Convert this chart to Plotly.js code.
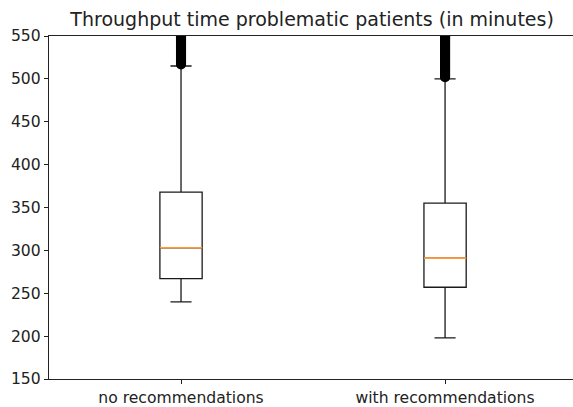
<!DOCTYPE html>
<html>
<head>
<meta charset="utf-8">
<script src="https://cdn.plot.ly/plotly-3.0.1.min.js"></script>
<style>
html,body{margin:0;padding:0;overflow:hidden;background:#fff;width:573px;height:407px;}
#chart{width:580px;height:407px;}
</style>
</head>
<body>
<div id="chart"></div>
<script>
// Data
const categories = ["no recommendations", "with recommendations"];
const q1Values = [267, 257];
const medianValues = [303, 291];
const q3Values = [368, 355];
const lowerWhisker = [240, 198];
const upperWhisker = [515, 500];
const outliersNoRec = [517, 518, 519, 520, 521, 522, 523, 524, 525, 526, 527, 528, 529, 530, 531, 532, 533, 534, 535, 536, 537, 538, 539, 540, 541, 542, 543, 544, 545, 546, 547, 548, 549, 550, 552, 555, 558];
const outliersWithRec = [502, 503, 504, 505, 506, 507, 508, 509, 510, 511, 512, 513, 514, 515, 516, 517, 518, 519, 520, 521, 522, 523, 524, 525, 526, 527, 528, 529, 530, 531, 532, 533, 534, 535, 536, 537, 538, 539, 540, 541, 542, 543, 544, 545, 546, 547, 548, 549, 550, 552, 555, 558];
const yTicks = [150, 200, 250, 300, 350, 400, 450, 500, 550];
const titleText = "Throughput time problematic patients (in minutes)";

const boxTrace = {
  type: "box",
  x: categories,
  q1: q1Values,
  median: medianValues,
  q3: q3Values,
  lowerfence: lowerWhisker,
  upperfence: upperWhisker,
  boxpoints: false,
  width: 0.16,
  whiskerwidth: 0.5,
  line: {color: "#1a1a1a", width: 1.3},
  fillcolor: "rgba(255,255,255,0)",
  hoverinfo: "skip",
  showlegend: false
};
const medianTrace = {
  type: "box",
  x: categories,
  q1: medianValues,
  median: medianValues,
  q3: medianValues,
  lowerfence: medianValues,
  upperfence: medianValues,
  boxpoints: false,
  width: 0.16,
  whiskerwidth: 0,
  line: {color: "#ff9a3c", width: 1.6},
  fillcolor: "rgba(255,255,255,0)",
  hoverinfo: "skip",
  showlegend: false
};
const outlierMarker = {symbol: "circle-open", size: 8, color: "#000", line: {width: 2.2, color: "#000"}};
const out1 = {
  type: "scatter", mode: "markers",
  x: outliersNoRec.map(() => categories[0]),
  y: outliersNoRec,
  marker: outlierMarker, showlegend: false, cliponaxis: true, hoverinfo: "skip"
};
const out2 = {
  type: "scatter", mode: "markers",
  x: outliersWithRec.map(() => categories[1]),
  y: outliersWithRec,
  marker: outlierMarker, showlegend: false, cliponaxis: true, hoverinfo: "skip"
};

const tickFont = {family: "DejaVu Sans", size: 15.6, color: "#222"};
const layout = {
  width: 580,
  height: 407,
  margin: {l: 49, r: 0, t: 36, b: 28},
  paper_bgcolor: "#fff",
  plot_bgcolor: "#fff",
  boxmode: "overlay",
  font: {family: "DejaVu Sans", color: "#222", size: 15.6},
  title: {
    text: titleText,
    font: {family: "DejaVu Sans", size: 19, color: "#222"},
    x: 0.4955, xref: "paper", xanchor: "center",
    y: 0.952, yref: "container", yanchor: "middle"
  },
  xaxis: {
    type: "category",
    range: [-0.5, 1.511],
    showgrid: false,
    zeroline: false,
    showline: true,
    linecolor: "#222",
    linewidth: 1.2,
    mirror: true,
    ticks: "outside",
    ticklen: 4,
    tickcolor: "#222",
    tickfont: tickFont,
    fixedrange: true
  },
  yaxis: {
    range: [150, 550],
    tickvals: yTicks,
    ticktext: yTicks.map(String),
    showgrid: false,
    zeroline: false,
    showline: true,
    linecolor: "#222",
    linewidth: 1.2,
    ticks: "outside",
    ticklen: 4,
    tickcolor: "#222",
    tickfont: tickFont,
    fixedrange: true
  }
};

Plotly.newPlot("chart", [boxTrace, out1, out2, medianTrace], layout, {staticPlot: true, displayModeBar: false});
</script>
</body>
</html>
